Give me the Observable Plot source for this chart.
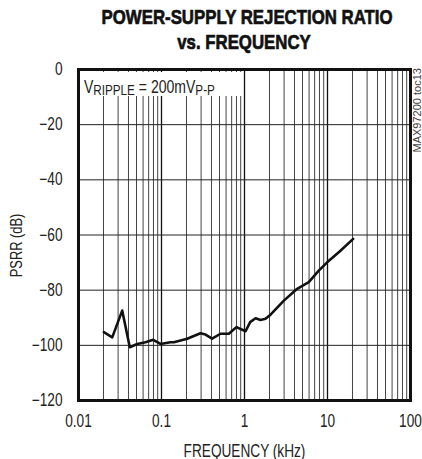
<!DOCTYPE html>
<html>
<head>
<meta charset="utf-8">
<script src="https://cdn.jsdelivr.net/npm/d3@7"></script>
<script src="https://cdn.jsdelivr.net/npm/@observablehq/plot@0.6"></script>
<style>
  html, body { margin: 0; padding: 0; background: #fff; }
  #wrap { width: 422px; height: 459px; position: relative; overflow: hidden; }
  #title {
    width: 422px; height: 55px; box-sizing: border-box; padding-top: 4px; padding-left: 66px;
  }
  #title div {
    width: 356px; transform: scaleX(0.8); transform-origin: 50% 50%;
    font-family: "Liberation Sans", Arial, sans-serif;
    font-weight: bold; font-size: 21px; line-height: 25px; text-align: center; color: #111;
    -webkit-text-stroke: 0.7px #111; white-space: nowrap;
  }
</style>
</head>
<body>
<div id="wrap">
  <div id="title"><div>POWER-SUPPLY REJECTION RATIO<br>vs. FREQUENCY</div></div>
  <div id="chart"></div>
</div>
<script>
// ---- data ----
const freq = [0.0202, 0.0255, 0.0336, 0.0415, 0.051, 0.0642, 0.0794, 0.0972, 0.128, 0.141,
              0.204, 0.295, 0.339, 0.407, 0.514, 0.647, 0.80, 1.03, 1.17, 1.36,
              1.56, 1.79, 2.06, 2.98, 4.31, 5.95, 7.85, 9.9, 14, 20.4];
const psrr = [-95.2, -97.1, -87.4, -100.7, -99.5, -98.9, -98.0, -99.5, -98.9, -98.9,
              -97.6, -95.6, -96.1, -97.6, -95.8, -95.8, -93.4, -94.9, -91.6, -90.2,
              -90.8, -90.4, -88.9, -83.8, -79.5, -77.1, -72.9, -69.9, -66.0, -61.4];
const xTicks = [0.01, 0.1, 1, 10, 100];
const yTicks = [0, -20, -40, -60, -80, -100, -120];
const mantissas = [2, 3, 4, 5, 6, 7, 8, 9];
const decades = [0.01, 0.1, 1, 10];
const minorGrid = decades.flatMap(d => mantissas.map(m => +(m * d).toPrecision(3)));

const data = freq.map((f, i) => ({f, v: psrr[i]}));
const FONT = '"Liberation Sans", Arial, sans-serif';
const NARROW = 0.78;

const plot = Plot.plot({
  width: 422, height: 404,
  marginTop: 14, marginBottom: 59, marginLeft: 78, marginRight: 12,
  style: {fontFamily: FONT, fontSize: "17.5px", color: "#222", background: "white"},
  x: {type: "log", domain: [0.01, 100]},
  y: {domain: [-120, 0]},
  marks: [
    Plot.ruleX(minorGrid, {stroke: "#444", strokeWidth: 1}),
    Plot.ruleX(xTicks, {stroke: "#111", strokeWidth: 1.3}),
    Plot.ruleY(yTicks, {stroke: "#222", strokeWidth: 1}),
    Plot.rect([0], {x1: () => 0.0105, x2: () => 0.95, y1: () => -1.1, y2: () => -9.8, fill: "white"}),
    Plot.line(data, {x: "f", y: "v", stroke: "#111", strokeWidth: 2.6, strokeLinejoin: "round"}),
    Plot.frame({stroke: "#111", strokeWidth: 3}),
    Plot.axisX(xTicks, {tickSize: 0, tickPadding: 14, tickFormat: d => String(d), label: null, fill: "#222"}),
    Plot.axisY(yTicks, {tickSize: 0, tickPadding: 16, label: null, fill: "#222"}),
    Plot.text(["FREQUENCY (kHz)"], {frameAnchor: "bottom", dy: 51, lineAnchor: "middle", fill: "#222"}),
    Plot.text(["PSRR (dB)"], {frameAnchor: "left", y: () => -63.8, rotate: -90, dx: -62, lineAnchor: "middle",
      textAnchor: "middle", fontSize: 16.5, fill: "#222"}),
    Plot.text(["MAX97200 toc13"], {frameAnchor: "top-right", rotate: -90, textAnchor: "start", lineAnchor: "middle",
      dx: 7, dy: 83, fontSize: 11, fill: "#444"})
  ]
});
document.getElementById("chart").appendChild(plot);

// condense the Helvetica-like text horizontally (about each text's own anchor)
d3.select(plot).selectAll("text").each(function() {
  if (this.textContent.startsWith("MAX")) return;
  const tr = this.getAttribute("transform") || "";
  this.setAttribute("transform", tr + ` scale(${NARROW},1)`);
});

// annotation with subscripts
const sx = plot.scale("x"), sy = plot.scale("y");
const t = d3.select(plot).append("text")
  .attr("transform", `translate(${sx.apply(0.0118)},${sy.apply(-8.8)}) scale(${NARROW},1)`)
  .attr("text-anchor", "start")
  .attr("font-family", FONT).attr("font-size", 18).attr("fill", "#222");
t.append("tspan").text("V");
t.append("tspan").attr("font-size", 15).attr("dy", 2).text("RIPPLE");
t.append("tspan").attr("dy", -2).text(" = 200mV");
t.append("tspan").attr("font-size", 15).attr("dy", 2).text("P-P");
</script>
</body>
</html>
